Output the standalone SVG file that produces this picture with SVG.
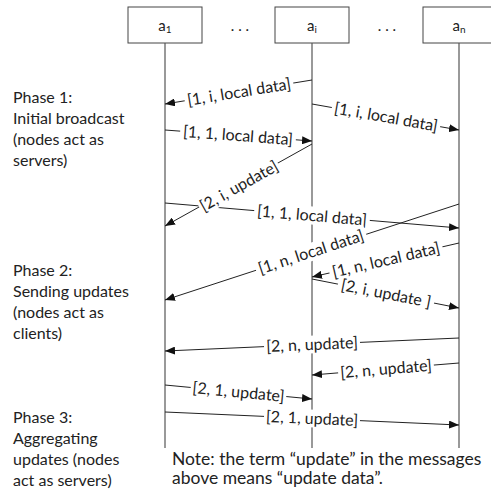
<svg xmlns="http://www.w3.org/2000/svg" width="491" height="491" viewBox="0 0 491 491">
<defs>
<marker id="arr" viewBox="0 0 10 8" refX="10" refY="4" markerWidth="10" markerHeight="8" markerUnits="userSpaceOnUse" orient="auto">
<path d="M0,0 L10,4 L0,8 Z" fill="#111"/>
</marker>
<style>
.box{fill:#fff;stroke:#444;stroke-width:1}
.life{stroke:#555;stroke-width:1.2;fill:none}
.msg{stroke:#222;stroke-width:1;fill:none;marker-end:url(#arr)}
.lbl{font-family:Lato,"Liberation Sans",sans-serif;font-size:16px;fill:#222;text-anchor:middle}
.bg{fill:#fff}
.nm{font-family:Lato,"Liberation Sans",sans-serif;font-size:15px;fill:#222;text-anchor:middle}
.sub{font-size:10px}
.side{font-family:Lato,"Liberation Sans",sans-serif;font-size:16px;fill:#222}
.note{font-family:Lato,"Liberation Sans",sans-serif;font-size:17.5px;fill:#222}
</style>
</defs>
<rect width="491" height="491" fill="#fff"/>
<g id="node-a1">
<rect class="box" x="128" y="7" width="74" height="36"/>
<line class="life" x1="165" y1="43" x2="165" y2="448"/>
<text class="nm" x="165" y="31">a<tspan class="sub" dy="2">1</tspan></text>
</g>
<g id="node-ai">
<rect class="box" x="275" y="7" width="74" height="36"/>
<line class="life" x1="312" y1="43" x2="312" y2="448"/>
<text class="nm" x="312" y="31">a<tspan class="sub" dy="2">i</tspan></text>
</g>
<g id="node-an">
<rect class="box" x="423" y="7" width="74" height="36"/>
<line class="life" x1="459" y1="43" x2="459" y2="448"/>
<text class="nm" x="459" y="31">a<tspan class="sub" dy="2">n</tspan></text>
</g>
<g id="dots">
<text class="nm" x="240" y="31">. . .</text>
<text class="nm" x="387" y="31">. . .</text>
</g>
<g id="connectors">
<line class="msg" x1="312" y1="80" x2="165" y2="104"/>
<line class="msg" x1="312" y1="104" x2="459" y2="130"/>
<line class="msg" x1="165" y1="130" x2="312" y2="141"/>
<line class="msg" x1="312" y1="144" x2="165" y2="226"/>
<line class="msg" x1="165" y1="203" x2="459" y2="228"/>
<line class="msg" x1="459" y1="204" x2="165" y2="300"/>
<line class="msg" x1="459" y1="243" x2="312" y2="277"/>
<line class="msg" x1="312" y1="279" x2="459" y2="308"/>
<line class="msg" x1="459" y1="338" x2="165" y2="351"/>
<line class="msg" x1="459" y1="363" x2="312" y2="375"/>
<line class="msg" x1="165" y1="385" x2="312" y2="399"/>
<line class="msg" x1="165" y1="412" x2="459" y2="425"/>
</g>
<g id="labels">
<g transform="translate(239,92) rotate(-9.27)"><rect class="bg" x="-55" y="-9" width="110" height="18"/><text class="lbl" y="5.5">[1, i, local data]</text></g>
<g transform="translate(386,117) rotate(10.03)"><rect class="bg" x="-55" y="-9" width="110" height="18"/><text class="lbl" y="5.5">[1, i, local data]</text></g>
<g transform="translate(238,135.5) rotate(4.28)"><rect class="bg" x="-58" y="-9" width="116" height="18"/><text class="lbl" y="5.5">[1, 1, local data]</text></g>
<g transform="translate(239,186) rotate(-29.15)"><rect class="bg" x="-45" y="-9" width="90" height="18"/><text class="lbl" y="5.5">[2, i, update]</text></g>
<g transform="translate(312,215.5) rotate(4.86)"><rect class="bg" x="-58" y="-9" width="116" height="18"/><text class="lbl" y="5.5">[1, 1, local data]</text></g>
<g transform="translate(311,252) rotate(-18.08)"><rect class="bg" x="-58" y="-9" width="116" height="18"/><text class="lbl" y="5.5">[1, n, local data]</text></g>
<g transform="translate(386,260) rotate(-13.02)"><rect class="bg" x="-58" y="-9" width="116" height="18"/><text class="lbl" y="5.5">[1, n, local data]</text></g>
<g transform="translate(386,293.5) rotate(11.16)"><rect class="bg" x="-49" y="-9" width="98" height="18"/><text class="lbl" y="5.5">[2, i, update ]</text></g>
<g transform="translate(312,344.5) rotate(-2.53)"><rect class="bg" x="-48" y="-9" width="96" height="18"/><text class="lbl" y="5.5">[2, n, update]</text></g>
<g transform="translate(386,369) rotate(-4.67)"><rect class="bg" x="-48" y="-9" width="96" height="18"/><text class="lbl" y="5.5">[2, n, update]</text></g>
<g transform="translate(238.5,392) rotate(5.44)"><rect class="bg" x="-48" y="-9" width="96" height="18"/><text class="lbl" y="5.5">[2, 1, update]</text></g>
<g transform="translate(312,418.5) rotate(2.53)"><rect class="bg" x="-48" y="-9" width="96" height="18"/><text class="lbl" y="5.5">[2, 1, update]</text></g>
</g>
<g id="phases">
<text class="side" x="13"><tspan x="13" y="103">Phase 1:</tspan><tspan x="13" y="124">Initial broadcast</tspan><tspan x="13" y="145">(nodes act as</tspan><tspan x="13" y="166">servers)</tspan></text>
<text class="side" x="13"><tspan x="13" y="276">Phase 2:</tspan><tspan x="13" y="297">Sending updates</tspan><tspan x="13" y="318">(nodes act as</tspan><tspan x="13" y="339">clients)</tspan></text>
<text class="side" x="13"><tspan x="13" y="423">Phase 3:</tspan><tspan x="13" y="444">Aggregating</tspan><tspan x="13" y="465">updates (nodes</tspan><tspan x="13" y="486">act as servers)</tspan></text>
</g>
<g id="note">
<text class="note" x="172"><tspan x="172" y="465">Note: the term “update” in the messages</tspan><tspan x="172" y="484">above means “update data”.</tspan></text>
</g>
</svg>
